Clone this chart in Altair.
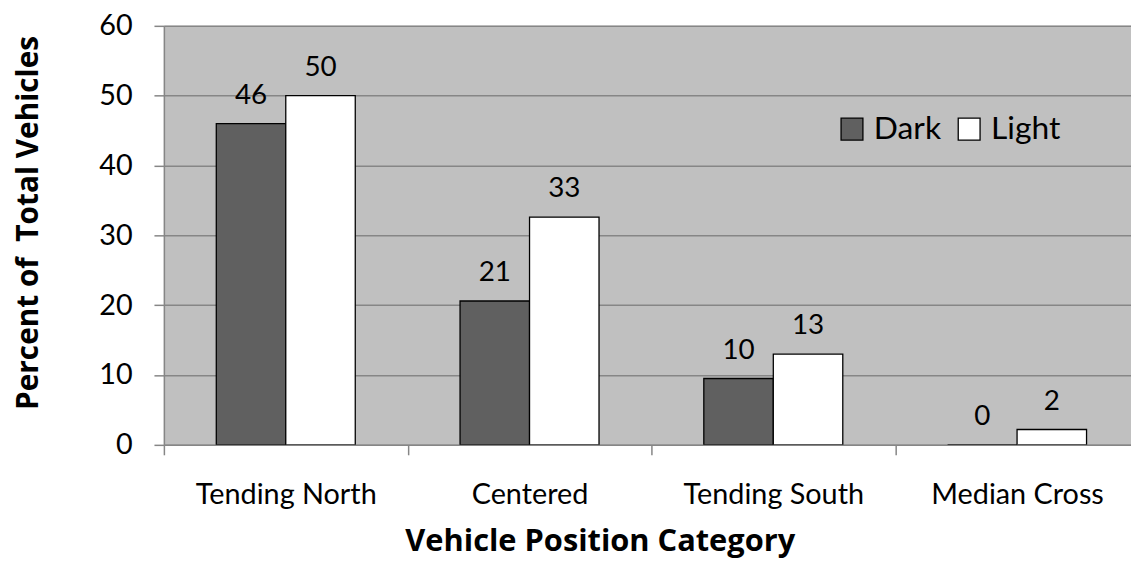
import altair as alt
import pandas as pd

categories = ["Tending North", "Centered", "Tending South", "Median Cross"]
series = ["Dark", "Light"]
dark_values = [46.0, 20.6, 9.5, 0.0]
light_values = [50.0, 32.6, 13.0, 2.2]
dark_labels = ["46", "21", "10", "0"]
light_labels = ["50", "33", "13", "2"]
series_colors = ["#606060", "#FFFFFF"]

rows = []
for i, c in enumerate(categories):
    rows.append({"category": c, "series": "Dark", "value": dark_values[i], "label": dark_labels[i]})
    rows.append({"category": c, "series": "Light", "value": light_values[i], "label": light_labels[i]})
df = pd.DataFrame(rows)

FONT = "Lato"
TFONT = "Open Sans"
AXIS_GRAY = "#868686"

x_enc = alt.X(
    "category:N",
    sort=categories,
    scale=alt.Scale(range=[0, 982], paddingInner=0, paddingOuter=0),
    axis=alt.Axis(
        title="Vehicle Position Category",
        titleFont=TFONT, titleFontSize=31, titleFontWeight="bold", titleColor="black",
        titleX=439, titleY=106, titleAlign="center", titleBaseline="alphabetic",
        labelFont=FONT, labelFontSize=29, labelColor="black", labelAngle=0,
        labelPadding=26, labelBaseline="top", labelLimit=400,
        tickBand="extent", tickSize=10, tickColor=AXIS_GRAY, tickWidth=1.5,
        domainColor=AXIS_GRAY, domainWidth=1.5, grid=False,
    ),
)
y_enc = alt.Y(
    "value:Q",
    scale=alt.Scale(domain=[0, 60], nice=False),
    axis=alt.Axis(
        title="Percent of\u00a0 Total Vehicles",
        titleFont=TFONT, titleFontSize=30, titleFontWeight="bold", titleColor="black",
        titleX=-127, titleY=198, titleAlign="center", titleBaseline="alphabetic", titleAngle=-90,
        values=[0, 10, 20, 30, 40, 50, 60],
        labelFont=FONT, labelFontSize=29, labelColor="black", labelPadding=22,
        tickSize=10, tickColor=AXIS_GRAY, tickWidth=1.5,
        domainColor=AXIS_GRAY, domainWidth=1.5,
        grid=True, gridColor=AXIS_GRAY, gridWidth=1.5,
    ),
)
xoff = alt.XOffset("series:N", sort=series, scale=alt.Scale(paddingInner=0, paddingOuter=0.754))

bars = alt.Chart(df).mark_bar(stroke="black", strokeWidth=1.3, clip=True).encode(
    x=x_enc,
    xOffset=xoff,
    y=y_enc,
    fill=alt.Fill(
        "series:N",
        sort=series,
        scale=alt.Scale(domain=series, range=series_colors),
        legend=alt.Legend(
            title=None, orient="none", direction="horizontal",
            legendX=677, legendY=88,
            symbolType="square", symbolSize=484, symbolStrokeColor="black", symbolStrokeWidth=1.3,
            labelFont=FONT, labelFontSize=32, labelColor="black", labelOffset=6,
            columnPadding=12, padding=0,
        ),
    ),
)

labels = alt.Chart(df).mark_text(
    font=FONT, fontSize=28, color="black", baseline="alphabetic", align="center", dy=-20, clip=True
).encode(
    x=alt.X("category:N", sort=categories),
    xOffset=alt.XOffset("series:N", sort=series),
    y=alt.Y("value:Q"),
    text="label:N",
)

chart = alt.layer(bars, labels).properties(
    width=974,
    height=422,
    autosize=alt.AutoSizeParams(type="none"),
    padding={"left": 157, "top": 16, "right": 0, "bottom": 114},
    background="white",
).configure_view(fill="#C0C0C0", strokeWidth=0)

chart.save("out.html", embed_options={"renderer": "svg", "actions": False})
